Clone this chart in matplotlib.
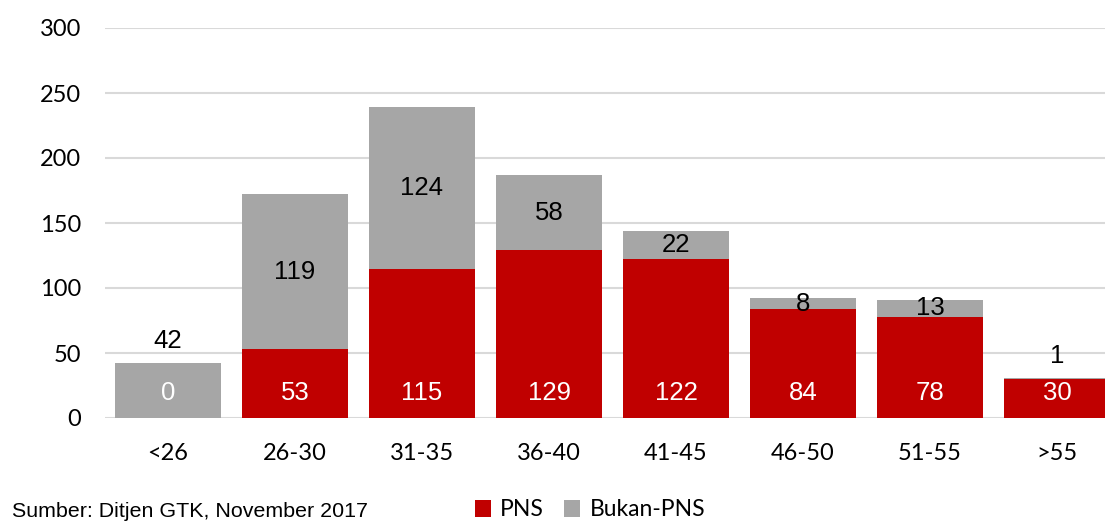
import matplotlib
matplotlib.use("Agg")
import matplotlib.pyplot as plt
import numpy as np

# data
kelompok = ["<26", "26-30", "31-35", "36-40", "41-45", "46-50", "51-55", ">55"]
pns = [0, 53, 115, 129, 122, 84, 78, 30]
bukan_pns = [42, 119, 124, 58, 22, 8, 13, 1]

merah = "#C00000"
abu = "#A6A6A6"

fig = plt.figure(figsize=(11.05, 5.23), dpi=100)
ax = fig.add_axes([104.5 / 1105, 105 / 523, 1000.5 / 1105, 390 / 523])

x = np.arange(len(kelompok))
lebar = 0.835
ax.bar(x, pns, lebar, color=merah, label="PNS", zorder=3)
ax.bar(x, bukan_pns, lebar, bottom=pns, color=abu, label="Bukan-PNS", zorder=3)

# label angka
for i in range(len(kelompok)):
    ax.text(x[i], 19, str(pns[i]), ha="center", va="center", color="white",
            fontsize=18.5, family="Liberation Sans", zorder=4)
    total = pns[i] + bukan_pns[i]
    if pns[i] == 0 or bukan_pns[i] < 5:
        yy = total + 17
    else:
        yy = pns[i] + bukan_pns[i] / 2
    ax.text(x[i], yy, str(bukan_pns[i]), ha="center", va="center", color="black",
            fontsize=18.5, family="Liberation Sans", zorder=4)

ax.set_xlim(-0.5, -0.5 + 1000.5 / 127)
ax.set_ylim(0, 300)
ax.set_yticks(range(0, 301, 50))
ax.set_xticks(x)
ax.set_xticklabels(kelompok)
ax.yaxis.grid(True, color="#D9D9D9", linewidth=1.5, zorder=0)
for s in ax.spines.values():
    s.set_visible(False)
ax.tick_params(length=0, labelsize=17)
ax.tick_params(axis="y", pad=17)
ax.tick_params(axis="x", pad=18)
for lbl in ax.get_xticklabels() + ax.get_yticklabels():
    lbl.set_family("Lato")

fig.legend(loc="center", bbox_to_anchor=(590 / 1105, 1 - 510 / 523), ncol=2, frameon=False,
           prop={"family": "Lato", "size": 16.5}, handlelength=0.7, handleheight=0.7,
           handletextpad=0.4, columnspacing=0.9)

fig.text(12 / 1105, 1 - 517 / 523, "Sumber: Ditjen GTK, November 2017", ha="left", va="baseline",
         fontsize=15.4, family="Liberation Sans")

fig.savefig("out.png", dpi=100)
